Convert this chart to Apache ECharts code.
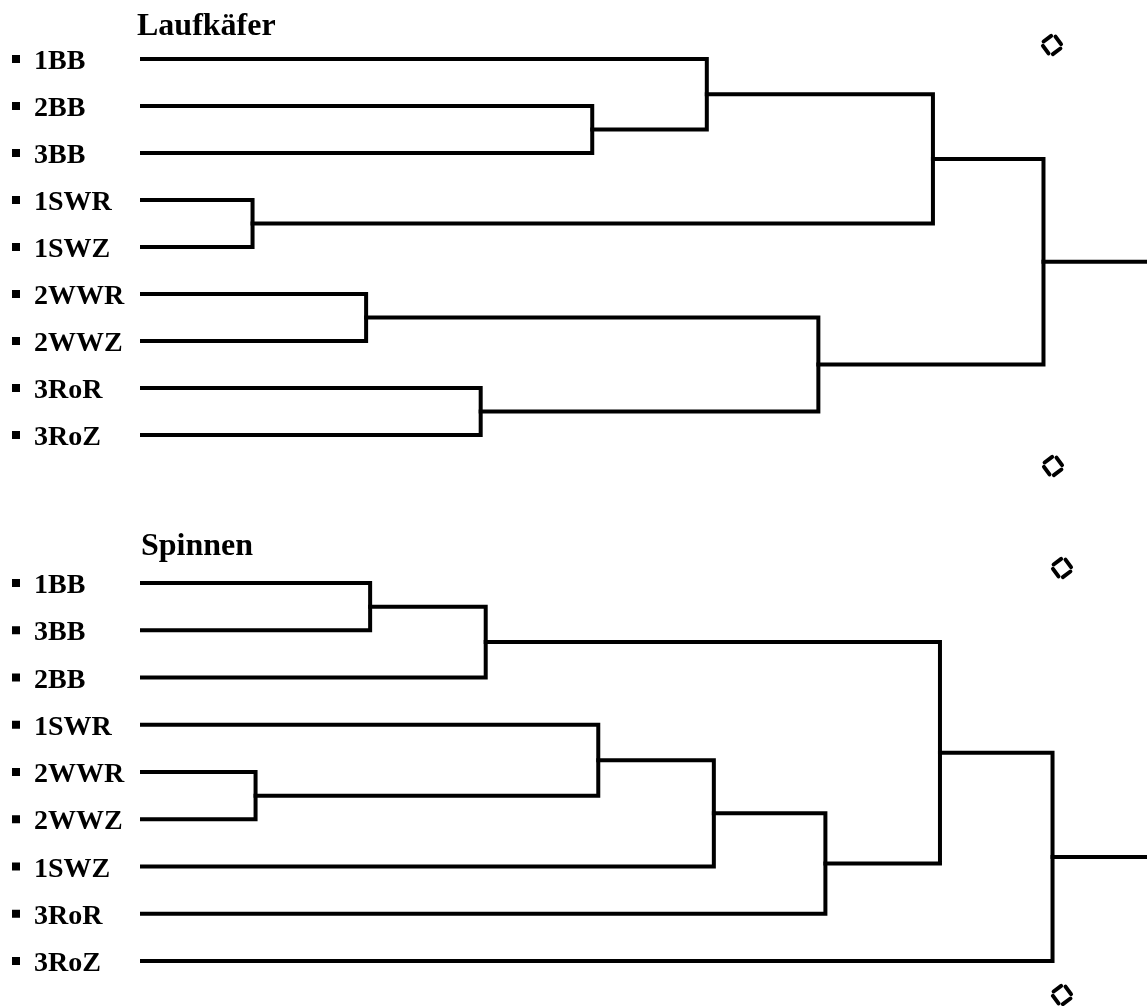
<!DOCTYPE html>
<html>
<head>
<meta charset="utf-8">
<script src="https://cdn.jsdelivr.net/npm/echarts@6/dist/echarts.min.js"></script>
<style>html,body{margin:0;padding:0;background:#fff}#c{width:1147px;height:1006px}</style>
</head>
<body>
<div id="c"></div>
<script>
// Laufkäfer dendrogram: leaf order and merges [childA, childB, distance]
// leaves are 0..8, clusters numbered from 9 upward in merge order
const laufTitle = 'Laufkäfer';
const laufLeaves = ['1BB', '2BB', '3BB', '1SWR', '1SWZ', '2WWR', '2WWZ', '3RoR', '3RoZ'];
const laufMerges = [
  [3, 4, 11.0],
  [5, 6, 22.3],
  [7, 8, 33.7],
  [1, 2, 44.8],
  [0, 12, 56.2],
  [10, 11, 67.3],
  [13, 9, 78.7],
  [15, 14, 89.7]
];
// Spinnen dendrogram
const spinTitle = 'Spinnen';
const spinLeaves = ['1BB', '3BB', '2BB', '1SWR', '2WWR', '2WWZ', '1SWZ', '3RoR', '3RoZ'];
const spinMerges = [
  [4, 5, 11.3],
  [0, 1, 22.7],
  [10, 2, 34.2],
  [3, 9, 45.4],
  [12, 6, 56.9],
  [13, 7, 68.0],
  [11, 14, 79.4],
  [15, 8, 90.6]
];
const distMax = 100;

function buildLinks(leaves, merges) {
  const n = leaves.length;
  const pos = {}; // node -> [height, yIndex]
  leaves.forEach((l, i) => { pos[i] = [0, i]; });
  const links = [];
  merges.forEach((m, k) => {
    const a = pos[m[0]], b = pos[m[1]], h = m[2];
    links.push({ coords: [[a[0], a[1]], [h, a[1]], [h, b[1]], [b[0], b[1]]] });
    pos[n + k] = [h, (a[1] + b[1]) / 2];
  });
  const root = pos[n + merges.length - 1];
  links.push({ coords: [[root[0], root[1]], [distMax, root[1]]] });
  return links;
}

const chart = echarts.init(document.getElementById('c'));
const FONT = '"Liberation Serif", "Times New Roman", serif';

function yAx(idx, leaves) {
  return {
    type: 'value', gridIndex: idx, min: 0, max: leaves.length - 1, interval: 1, inverse: true,
    axisLine: { show: false }, axisTick: { show: false }, splitLine: { show: false },
    axisLabel: {
      show: true, align: 'left', margin: 130,
      formatter: v => '{sq|}{t|' + leaves[v] + '}',
      rich: {
        sq: { width: 8, height: 8, backgroundColor: '#000', verticalAlign: 'middle' },
        t: { fontFamily: FONT, fontSize: 28, fontWeight: 'bold', color: '#000',
             padding: [6, 0, 0, 14], verticalAlign: 'middle' }
      }
    }
  };
}
function xAx(idx) {
  return { type: 'value', gridIndex: idx, min: 0, max: distMax, show: false };
}

function handle(x, y) {
  const r = 11, s = 0.2, e = 0.8;
  const V = [[0, -r], [r, 0], [0, r], [-r, 0]];
  const children = [];
  for (let i = 0; i < 4; i++) {
    const p = V[i], q = V[(i + 1) % 4];
    children.push({
      type: 'line',
      shape: { x1: p[0] + (q[0] - p[0]) * s, y1: p[1] + (q[1] - p[1]) * s, x2: p[0] + (q[0] - p[0]) * e, y2: p[1] + (q[1] - p[1]) * e },
      style: { stroke: '#000', lineWidth: 4, lineCap: 'round' }
    });
  }
  return { type: 'group', x: x, y: y, rotation: -0.15, children: children };
}

chart.setOption({
  animation: false,
  backgroundColor: '#fff',
  title: [
    { text: laufTitle, left: 132, top: 6, textStyle: { fontFamily: FONT, fontSize: 32, fontWeight: 'bold', color: '#000' } },
    { text: spinTitle, left: 136, top: 526, textStyle: { fontFamily: FONT, fontSize: 32, fontWeight: 'bold', color: '#000' } }
  ],
  grid: [
    { left: 142, right: 0, top: 59, height: 376 },
    { left: 142, right: 0, top: 583, height: 378 }
  ],
  xAxis: [xAx(0), xAx(1)],
  yAxis: [yAx(0, laufLeaves), yAx(1, spinLeaves)],
  series: [
    {
      type: 'lines', coordinateSystem: 'cartesian2d', xAxisIndex: 0, yAxisIndex: 0, polyline: true,
      lineStyle: { color: '#000', width: 4, opacity: 1, join: 'miter', cap: 'square' },
      data: buildLinks(laufLeaves, laufMerges)
    },
    {
      type: 'lines', coordinateSystem: 'cartesian2d', xAxisIndex: 1, yAxisIndex: 1, polyline: true,
      lineStyle: { color: '#000', width: 4, opacity: 1, join: 'miter', cap: 'square' },
      data: buildLinks(spinLeaves, spinMerges)
    }
  ],
  graphic: [handle(1052, 45), handle(1053, 466), handle(1062, 568), handle(1062, 995)]
});
</script>
</body>
</html>
